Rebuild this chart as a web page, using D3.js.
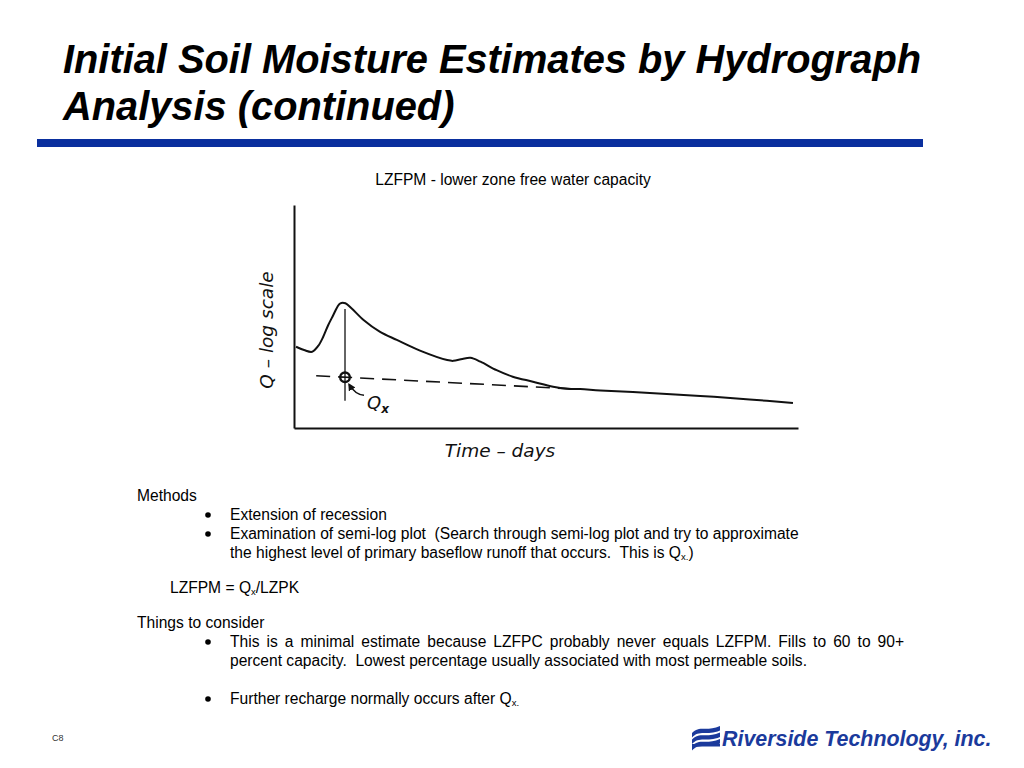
<!DOCTYPE html>
<html><head><meta charset="utf-8">
<script src="https://cdn.jsdelivr.net/npm/d3@7/dist/d3.min.js"></script>
<style>
html,body{margin:0;padding:0;background:#fff;}
svg{display:block;}
.body{font-family:"Liberation Sans",Arial,sans-serif;font-size:15.6px;fill:#000;}
.hand{font-family:"DejaVu Sans",sans-serif;font-style:oblique;fill:#111;}
</style></head>
<body>
<svg id="c" width="1024" height="768"></svg>
<script>
// ---- data (days, Q on a log scale) ----
const hydroDays = [0.2,1.0,1.8,2.4,2.9,3.4,3.9,4.3,4.6,5.1,5.7,6.9,8.5,10.2,12.5,15.2,15.8,16.7,17.5,18.5,20.1,21.7,23.7,25.7,27.1,28.4,30.4,35.3,40.3,45.2,49.5];
const hydroQ    = [12.4,11.2,10.6,12.7,16.9,24.3,33.1,42.5,47.6,47.6,40.8,28.4,19.8,15.3,11.0,8.2,8.0,8.5,8.8,7.8,6.0,4.9,4.2,3.6,3.38,3.35,3.2,2.96,2.7,2.42,2.17];
const recessionDays = [2.2,28.4];
const recessionQ    = [5.05,3.32];
const qxDay = 5.06, qxQ = 4.81;
const qxLineQ = [39.9,2.33];
const xDomain = [0,50];
const yDomain = [1,1000];

const svg = d3.select("#c");

// ---- title ----
svg.append("text").attr("x",63).attr("y",73)
  .attr("font-family","Liberation Sans,Arial,sans-serif").attr("font-weight","bold")
  .attr("font-style","italic").attr("font-size",39.8).text("Initial Soil Moisture Estimates by Hydrograph");
svg.append("text").attr("x",63).attr("y",120)
  .attr("font-family","Liberation Sans,Arial,sans-serif").attr("font-weight","bold")
  .attr("font-style","italic").attr("font-size",39.8).text("Analysis (continued)");
svg.append("rect").attr("x",37).attr("y",139).attr("width",886).attr("height",8).attr("fill","#0a2f9e");

svg.append("text").attr("class","body").attr("x",513).attr("y",185).attr("text-anchor","middle")
  .text("LZFPM - lower zone free water capacity");

// ---- chart ----
const x = d3.scaleLinear().domain(xDomain).range([294,798]);
const y = d3.scaleLog().domain(yDomain).range([428,205]);

svg.append("g").attr("transform","translate(294,0)")
  .call(d3.axisLeft(y).tickValues([]).tickSizeOuter(0));
svg.append("g").attr("transform","translate(0,428)")
  .call(d3.axisBottom(x).tickValues([]).tickSizeOuter(0));
svg.selectAll(".domain").attr("stroke","#111").attr("stroke-width",2);

const pts = hydroDays.map((d,i)=>[d,hydroQ[i]]);
const line = d3.line().x(d=>x(d[0])).y(d=>y(d[1])).curve(d3.curveCatmullRom);
svg.append("path").attr("d",line(pts)).attr("fill","none").attr("stroke","#111").attr("stroke-width",2);

const rec = recessionDays.map((d,i)=>[d,recessionQ[i]]);
svg.append("path").attr("d",d3.line().x(d=>x(d[0])).y(d=>y(d[1]))(rec))
  .attr("fill","none").attr("stroke","#111").attr("stroke-width",1.6).attr("stroke-dasharray","14,8");

svg.append("line").attr("x1",x(qxDay)).attr("x2",x(qxDay))
  .attr("y1",y(qxLineQ[0])).attr("y2",y(qxLineQ[1])).attr("stroke","#111").attr("stroke-width",1.3);

svg.append("circle").attr("cx",x(qxDay)).attr("cy",y(qxQ)).attr("r",4.8)
  .attr("fill","none").attr("stroke","#111").attr("stroke-width",2.4);

// arrow from label to Qx point
const cx0 = x(qxDay), cy0 = y(qxQ);
svg.append("defs").append("marker").attr("id","ah").attr("viewBox","0 0 10 10")
  .attr("refX",8).attr("refY",5).attr("markerWidth",5).attr("markerHeight",5).attr("orient","auto")
  .append("path").attr("d","M0,0 L10,5 L0,10 z").attr("fill","#111");
svg.append("path").attr("d",`M${cx0+19},${cy0+18} Q${cx0+10},${cy0+17} ${cx0+4},${cy0+7}`)
  .attr("fill","none").attr("stroke","#111").attr("stroke-width",1.5).attr("marker-end","url(#ah)");
const ql = svg.append("text").attr("class","hand").attr("x",cx0+22).attr("y",cy0+32).attr("font-size",18);
ql.append("tspan").text("Q");
ql.append("tspan").attr("font-size",12).attr("dy",4).attr("font-weight","bold").text("x");

svg.append("text").attr("class","hand").attr("font-size",18.5)
  .attr("transform","translate(273,330) rotate(-90)").attr("text-anchor","middle").text("Q – log scale");
svg.append("text").attr("class","hand").attr("font-size",18.5)
  .attr("x",500).attr("y",457).attr("text-anchor","middle").text("Time – days");

// ---- body text ----
function t(xp,yp,str){return svg.append("text").attr("class","body").attr("x",xp).attr("y",yp+1).text(str);}
function bullet(yp){svg.append("circle").attr("cx",208).attr("cy",yp-4).attr("r",2.8).attr("fill","#000");}
function justify(sel,width){
  const n = sel.text().split(" ").length-1;
  const w = sel.node().getComputedTextLength();
  sel.attr("word-spacing",((width-w)/n).toFixed(2)+"px");
}
t(137,500,"Methods");
bullet(519); t(230,519,"Extension of recession");
bullet(538); t(230,538,"Examination of semi-log plot  (Search through semi-log plot and try to approximate").attr("xml:space","preserve");
const l4 = t(230,557,"the highest level of primary baseflow runoff that occurs.  This is Q").attr("xml:space","preserve");
l4.append("tspan").attr("font-size",9.5).attr("dy",2).text("x.");
l4.append("tspan").attr("dy",-2).text(")");
const l5 = t(170,592,"LZFPM = Q");
l5.append("tspan").attr("font-size",9.5).attr("dy",2).text("x");
l5.append("tspan").attr("dy",-2).text("/LZPK");
t(137,627,"Things to consider");
bullet(646);
const j1 = t(230,646,"This is a minimal estimate because LZFPC probably never equals LZFPM. Fills to 60 to 90+");
justify(j1,674);
t(230,665,"percent capacity.  Lowest percentage usually associated with most permeable soils.").attr("xml:space","preserve");
bullet(703);
const l9 = t(230,703,"Further recharge normally occurs after Q");
l9.append("tspan").attr("font-size",9.5).attr("dy",2).text("x.");

svg.append("text").attr("x",52).attr("y",741).attr("font-family","Liberation Sans,Arial,sans-serif")
  .attr("font-size",9).attr("fill","#333").text("C8");

// ---- logo ----
const logo = svg.append("g").attr("fill","#1b3a9c");
[0,6.5,13].forEach(o=>{
  logo.append("path").attr("d",
    `M692,${733+o} C699,${725+o} 707,${732+o} 720,${726+o} L720,${730.5+o} C707,${736+o} 699,${729.5+o} 692,${737.5+o} Z`);
});
logo.append("rect").attr("x",692).attr("y",744).attr("width",28).attr("height",2.5);
svg.append("text").attr("x",722).attr("y",746).attr("font-family","Liberation Sans,Arial,sans-serif")
  .attr("font-weight","bold").attr("font-style","italic").attr("font-size",21.4).attr("fill","#1b3a9c")
  .text("Riverside Technology, inc.");
</script>
</body></html>
